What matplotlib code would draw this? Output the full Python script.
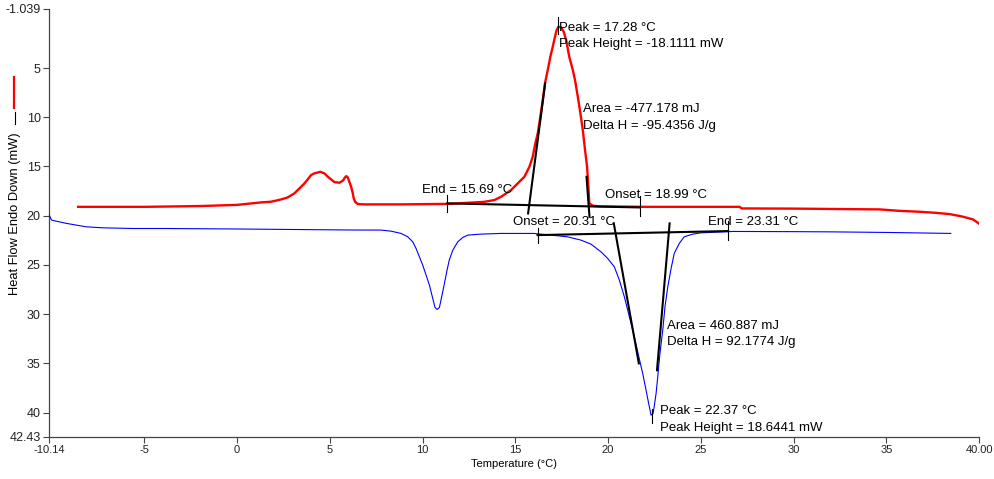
import matplotlib
matplotlib.use("Agg")
import matplotlib.pyplot as plt
from matplotlib.lines import Line2D

plt.rcParams['font.family'] = ['Liberation Sans', 'DejaVu Sans']

# ---- data ----
red_t = [-8.57, -5, -2, 0, 1.29, 1.83, 2.37, 2.73, 3.09, 3.36, 3.63, 3.81, 3.99, 4.17,
         4.49, 4.71, 4.89, 5.07, 5.25, 5.52, 5.7, 5.82, 5.89, 5.97, 6.05, 6.15, 6.24,
         6.29, 6.36, 6.51, 6.86, 8.83, 11.34, 12.44, 13.33, 13.87, 14.23, 14.77, 15.22,
         15.49, 15.76, 15.94, 16.08, 16.21, 16.35, 16.48, 16.6, 16.75, 16.89, 17.02,
         17.14, 17.23, 17.32, 17.47, 17.61, 17.74, 17.91, 18.1, 18.22, 18.37, 18.51,
         18.64, 18.76, 18.87, 18.94, 18.99, 19.2, 19.6, 22, 25, 27.1, 27.2, 30, 34.66,
         35.65, 36.8, 37.62, 38.43, 39.14, 39.68, 40.0]
red_hf = [19.1, 19.1, 19.02, 18.9, 18.65, 18.58, 18.35, 18.14, 17.73, 17.23, 16.72,
          16.31, 15.87, 15.7, 15.54, 15.7, 16.04, 16.31, 16.59, 16.65, 16.45, 16.11,
          15.98, 16.11, 16.55, 17.06, 17.73, 18.24, 18.58, 18.82, 18.85, 18.85, 18.8,
          18.69, 18.59, 18.41, 18.08, 17.4, 16.55, 16.05, 15.03, 14.01, 12.65, 11.64,
          9.95, 8.25, 6.56, 5.2, 3.85, 2.83, 1.82, 1.14, 0.8, 0.87, 1.31, 2.15, 3.85,
          5.2, 6.22, 7.91, 9.6, 11.3, 13.33, 15.03, 17.06, 18.75, 19.0, 19.05, 19.1,
          19.1, 19.1, 19.26, 19.28, 19.36, 19.5, 19.6, 19.7, 19.84, 20.1, 20.38, 20.8]

blue_t = [-10.14, -10.0, -9.2, -8.13, -7.23, -5.61, -3.82, 0, 3, 6, 7.76, 8.3, 8.84,
          9.2, 9.47, 9.65, 9.83, 10.01, 10.19, 10.37, 10.55, 10.67, 10.78, 10.91, 11.03,
          11.18, 11.32, 11.44, 11.63, 11.9, 12.17, 12.44, 13.15, 14.23, 16.0, 17.8,
          18.54, 19.08, 19.62, 19.98, 20.34, 20.61, 20.88, 21.15, 21.42, 21.64, 21.87,
          22.05, 22.19, 22.32, 22.43, 22.5, 22.59, 22.68, 22.8, 22.95, 23.07, 23.22,
          23.4, 23.57, 23.84, 24.11, 24.57, 25.01, 26.75, 30, 31.97, 35, 38.48]
blue_hf = [19.9, 20.45, 20.78, 21.13, 21.23, 21.3, 21.3, 21.35, 21.4, 21.45, 21.46,
           21.57, 21.8, 22.14, 22.65, 23.33, 24.18, 25.02, 26.04, 27.05, 28.41, 29.32,
           29.52, 29.32, 28.24, 26.88, 25.53, 24.51, 23.5, 22.65, 22.21, 21.97, 21.87,
           21.8, 21.8, 22.14, 22.48, 22.89, 23.67, 24.34, 25.19, 26.54, 28.24, 30.27,
           32.31, 34.17, 36.03, 37.72, 39.07, 40.26, 40.09, 39.25, 38.06, 36.37, 33.99,
           31.63, 29.26, 27.23, 25.36, 23.83, 22.82, 22.14, 21.87, 21.74, 21.6, 21.62,
           21.64, 21.7, 21.8]

x_ticks = [-10.14, -5, 0, 5, 10, 15, 20, 25, 30, 35, 40.0]
x_labels = ['-10.14', '-5', '0', '5', '10', '15', '20', '25', '30', '35', '40.00']
y_ticks = [-1.039, 5, 10, 15, 20, 25, 30, 35, 40, 42.43]
y_labels = ['-1.039', '5', '10', '15', '20', '25', '30', '35', '40', '42.43']

# annotation construction lines (temperature, heat flow)
red_base_t = [11.34, 21.71]
red_base_hf = [18.75, 19.16]
red_tan1_t = [15.69, 16.61]
red_tan1_hf = [19.77, 6.55]
red_tan2_t = [18.84, 19.0]
red_tan2_hf = [16.05, 20.11]
blue_base_t = [16.2, 26.48]
blue_base_hf = [21.97, 21.56]
blue_tan1_t = [20.31, 21.66]
blue_tan1_hf = [20.78, 35.0]
blue_tan2_t = [23.32, 22.64]
blue_tan2_hf = [20.78, 35.7]

W, H = 994, 479
fig = plt.figure(figsize=(W / 100, H / 100), dpi=100)
ax = fig.add_axes([49 / W, 1 - 436.5 / H, 930 / W, (436.5 - 8.6) / H])

ax.plot(blue_t, blue_hf, color='#0000ff', lw=0.8, zorder=3, solid_joinstyle='round')
ax.plot(red_t, red_hf, color='#ff0000', lw=1.7, zorder=3, solid_joinstyle='round')

bk = dict(color='black', lw=1.5, zorder=4)
ax.plot(red_base_t, red_base_hf, **bk)
ax.plot(red_tan1_t, red_tan1_hf, **bk)
ax.plot(red_tan2_t, red_tan2_hf, **bk)
ax.plot(blue_base_t, blue_base_hf, **bk)
ax.plot(blue_tan1_t, blue_tan1_hf, **bk)
ax.plot(blue_tan2_t, blue_tan2_hf, **bk)

# small vertical markers
tk = dict(color='black', lw=0.8, zorder=4)
ax.plot([11.34, 11.34], [17.9, 19.6], **tk)
ax.plot([21.71, 21.71], [18.0, 20.0], **tk)
ax.plot([17.29, 17.29], [-0.2, 1.5], **tk)
ax.plot([16.2, 16.2], [21.2, 22.8], **tk)
ax.plot([26.48, 26.48], [20.5, 22.5], **tk)
ax.plot([22.36, 22.36], [39.6, 41.1], **tk)

fs = 9.5
txt = dict(fontsize=fs, va='center', ha='left', zorder=5)
ax.text(17.36, 0.93, 'Peak = 17.28 °C', **txt)
ax.text(17.36, 2.56, 'Peak Height = -18.1111 mW', **txt)
ax.text(18.65, 9.17, 'Area = -477.178 mJ', **txt)
ax.text(18.65, 10.89, 'Delta H = -95.4356 J/g', **txt)
ax.text(9.97, 17.4, 'End = 15.69 °C', **txt)
ax.text(19.84, 17.9, 'Onset = 18.99 °C', **txt)
ax.text(14.88, 20.65, 'Onset = 20.31 °C', **txt)
ax.text(25.39, 20.65, 'End = 23.31 °C', **txt)
ax.text(23.18, 31.22, 'Area = 460.887 mJ', **txt)
ax.text(23.18, 32.85, 'Delta H = 92.1774 J/g', **txt)
ax.text(22.8, 39.86, 'Peak = 22.37 °C', **txt)
ax.text(22.8, 41.59, 'Peak Height = 18.6441 mW', **txt)

ax.set_xlim(-10.14, 40.0)
ax.set_ylim(42.43, -1.039)
ax.set_xticks(x_ticks)
ax.set_xticklabels(x_labels, fontsize=8)
ax.set_yticks(y_ticks)
ax.set_yticklabels(y_labels, fontsize=9)
ax.tick_params(length=4, width=0.8, color='#444444', labelcolor='#222222', pad=2)
for s in ['top', 'right']:
    ax.spines[s].set_visible(False)
for s in ['left', 'bottom']:
    ax.spines[s].set_color('#444444')
    ax.spines[s].set_linewidth(0.9)

ax.set_xlabel('Temperature (°C)', fontsize=8, labelpad=3)

fig.text(15 / W, 1 - 214 / H, 'Heat Flow Endo Down (mW)', rotation=90,
         fontsize=9.3, ha='center', va='center')
fig.add_artist(Line2D([15 / W, 15 / W], [1 - 112 / H, 1 - 124 / H], color='black', lw=0.8))
fig.add_artist(Line2D([14 / W, 14 / W], [1 - 77 / H, 1 - 108 / H], color='#ff0000', lw=1.6))

fig.savefig('out.png', dpi=100)
